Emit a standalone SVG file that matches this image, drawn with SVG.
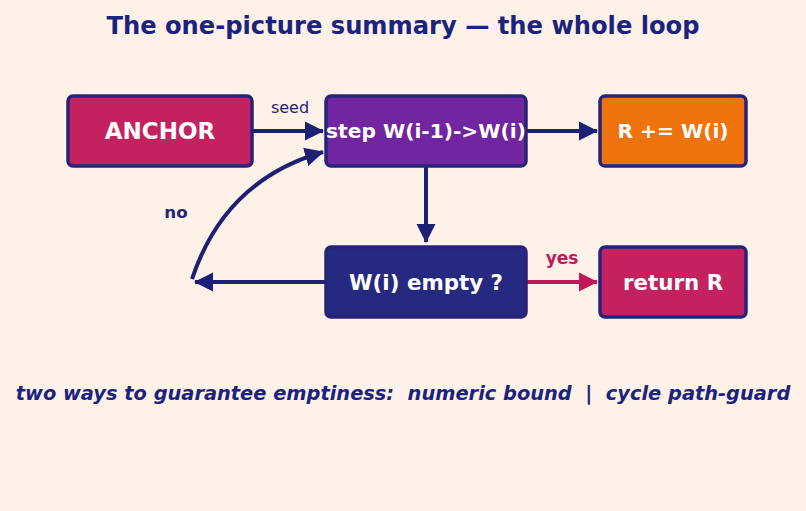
<svg xmlns="http://www.w3.org/2000/svg" width="806" height="511" viewBox="0 0 806 511">
<style>
.box{stroke:#28237a;stroke-width:3.5}
.lbl{font-family:"DejaVu Sans",sans-serif;font-weight:bold;fill:#ffffff;text-anchor:middle;dominant-baseline:central}
.edge{fill:none;stroke:#1c2175;stroke-width:4}
</style>
<defs>
<marker id="ah" markerUnits="userSpaceOnUse" markerWidth="20" markerHeight="20" viewBox="0 0 20 20" refX="18" refY="10" orient="auto"><path d="M0,0.5 L19,10 L0,19.5 Z" fill="#1c2175"/></marker>
<marker id="ahp" markerUnits="userSpaceOnUse" markerWidth="20" markerHeight="20" viewBox="0 0 20 20" refX="18" refY="10" orient="auto"><path d="M0,0.5 L19,10 L0,19.5 Z" fill="#c2185b"/></marker>
</defs>
<rect width="806" height="511" fill="#fef2e8"/>
<text x="403" y="34" font-family="DejaVu Sans,sans-serif" font-weight="bold" font-size="24.2" fill="#1a237e" text-anchor="middle">The one-picture summary — the whole loop</text>
<g id="edges">
<path class="edge" d="M253,131 L323,131" marker-end="url(#ah)"/>
<path class="edge" d="M527,131 L597,131" marker-end="url(#ah)"/>
<path class="edge" d="M426,167 L426,242" marker-end="url(#ah)"/>
<path class="edge" d="M325,282 L195,282" marker-end="url(#ah)"/>
<path class="edge" d="M192,279 Q225,180 323,152" marker-end="url(#ah)"/>
<path d="M527,282 L597,282" fill="none" stroke="#c2185b" stroke-width="4" marker-end="url(#ahp)"/>
<text x="290" y="113" font-family="DejaVu Sans,sans-serif" font-size="16" fill="#23237a" text-anchor="middle">seed</text>
<text x="176" y="218" font-family="DejaVu Sans,sans-serif" font-weight="bold" font-size="16.7" fill="#23237a" text-anchor="middle">no</text>
<text x="562" y="264" font-family="DejaVu Sans,sans-serif" font-weight="bold" font-size="17" fill="#c2185b" text-anchor="middle">yes</text>
</g>
<g id="anchor"><rect class="box" x="68" y="96" width="184" height="70" rx="5" fill="#c42160"/><text class="lbl" x="160" y="131" font-size="23">ANCHOR</text></g>
<g id="step"><rect class="box" x="326" y="96" width="200" height="70" rx="5" fill="#7125a0"/><text class="lbl" x="426" y="131" font-size="20.2">step W(i-1)-&gt;W(i)</text></g>
<g id="accum"><rect class="box" x="600" y="96" width="146" height="70" rx="5" fill="#ef730d"/><text class="lbl" x="673" y="131" font-size="20.2">R += W(i)</text></g>
<g id="empty"><rect class="box" x="326" y="247" width="200" height="70" rx="5" fill="#25297f"/><text class="lbl" x="426" y="282" font-size="21.4">W(i) empty ?</text></g>
<g id="ret"><rect class="box" x="600" y="247" width="146" height="70" rx="5" fill="#c42160"/><text class="lbl" x="673" y="282" font-size="21.4">return R</text></g>
<text x="403" y="400" font-family="DejaVu Sans,sans-serif" font-weight="bold" font-style="italic" font-size="19.4" fill="#1a237e" text-anchor="middle" xml:space="preserve">two ways to guarantee emptiness:  numeric bound  |  cycle path-guard</text>
</svg>
